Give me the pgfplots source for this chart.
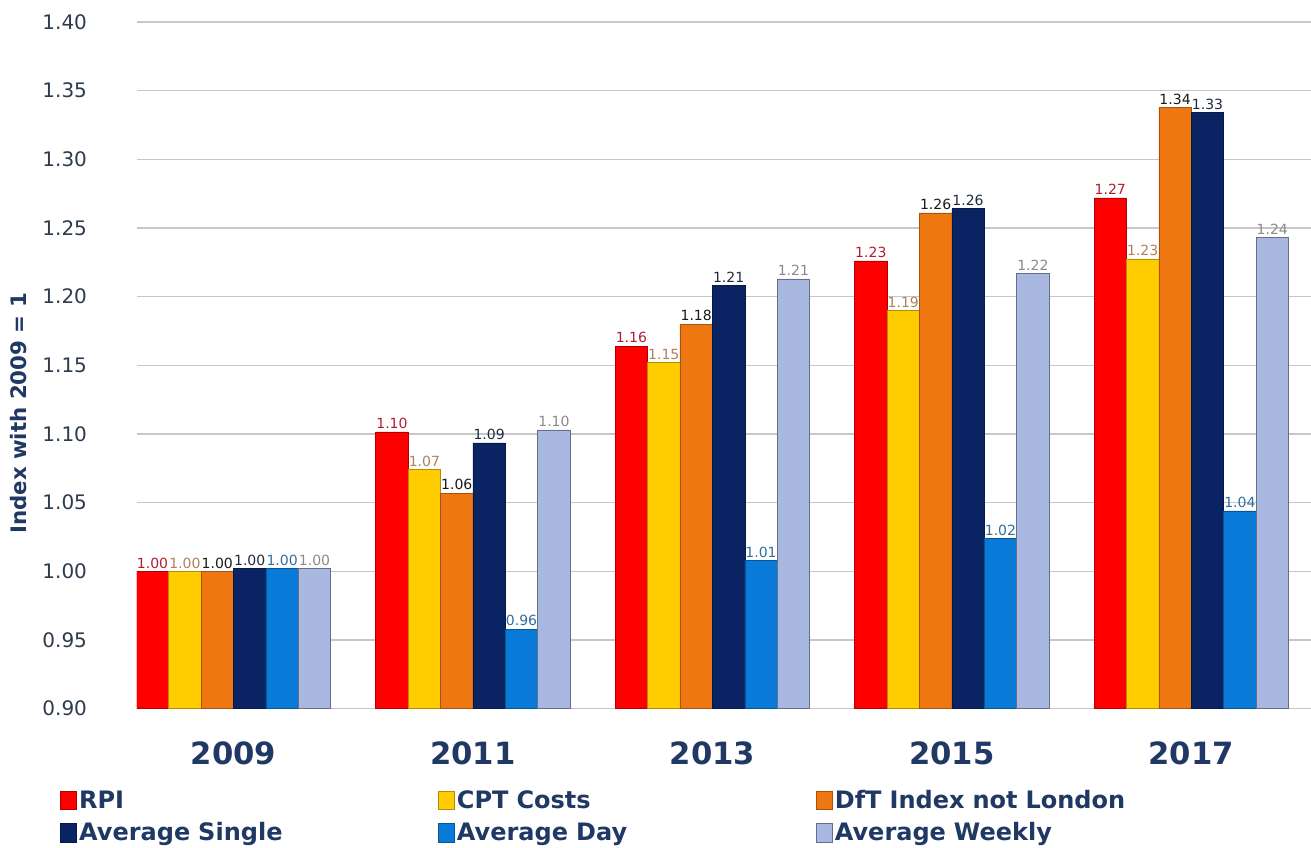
\documentclass[border=0pt]{standalone}
\usepackage{fontspec}
\setmainfont{DejaVu Sans}
\usepackage{pgfplots}
\pgfplotsset{compat=1.18}

\definecolor{cRPI}{HTML}{FF0000}
\definecolor{cCPT}{HTML}{FFCC00}
\definecolor{cDfT}{HTML}{EE7711}
\definecolor{cSgl}{HTML}{0A2463}
\definecolor{cDay}{HTML}{0A7AD8}
\definecolor{cWk}{HTML}{A8B8E0}
\definecolor{lRPI}{HTML}{B01E2E}
\definecolor{lCPT}{HTML}{B0805A}
\definecolor{lDfT}{HTML}{1A1A1A}
\definecolor{lSgl}{HTML}{1F2A44}
\definecolor{lDay}{HTML}{2F6FA0}
\definecolor{lWk}{HTML}{8A8A8A}
\definecolor{navytxt}{HTML}{1F3864}
\definecolor{ticktxt}{HTML}{2E3A4E}

\begin{document}
\begin{tikzpicture}
\begin{axis}[
    scale only axis,
    width=880.5pt, height=515pt,
    ybar=0pt, bar width=24.3pt,
    xmin=-0.403, xmax=4.5,
    ymin=0.9, ymax=1.4,
    xtick={0,1,2,3,4},
    xticklabels={2009,2011,2013,2015,2017},
    ytick={0.9,0.95,1.0,1.05,1.1,1.15,1.2,1.25,1.3,1.35,1.4},
    /pgf/number format/assume math mode=true,
    yticklabel style={/pgf/number format/fixed, /pgf/number format/fixed zerofill,
        /pgf/number format/precision=2, font=\fontsize{15}{17}\selectfont,
        text=ticktxt, xshift=-34pt},
    xticklabel style={font=\bfseries\fontsize{23}{26}\selectfont, text=navytxt,
        anchor=base, yshift=-42pt},
    ymajorgrids, grid style={draw=black!22, line width=0.8pt},
    axis line style={draw=none},
    major tick length=0pt,
    every axis y label/.style={at={(axis description cs:-0.101,0.43)},
        rotate=90, anchor=center},
    ylabel={Index with 2009 = 1},
    ylabel style={font=\bfseries\fontsize{16}{18}\selectfont, text=navytxt},
    nodes near coords,
    every node near coord/.append style={font=\fontsize{10.5}{12}\selectfont,
        /pgf/number format/fixed, /pgf/number format/fixed zerofill,
        /pgf/number format/precision=2, inner sep=2pt},
    legend columns=3,
    legend image code/.code={\draw[#1, line width=0.4pt] (0pt,-7pt) rectangle (12pt,7pt);},
    legend style={at={(axis description cs:0,0)}, anchor=north west,
        xshift=-58pt, yshift=-59pt, draw=none, fill=none, inner sep=0pt,
        font=\bfseries\fontsize{18}{21}\selectfont, text=navytxt,
        cells={anchor=west, text width=267pt}, row sep=5pt},
]

\addplot[fill=cRPI, draw=cRPI!70!black, every node near coord/.append style={text=lRPI}]
    coordinates {(0,1.000)(1,1.1016)(2,1.164)(3,1.226)(4,1.272)};
\addlegendentry{RPI}

\addplot[fill=cCPT, draw=cCPT!70!black, every node near coord/.append style={text=lCPT}]
    coordinates {(0,1.000)(1,1.074)(2,1.152)(3,1.190)(4,1.2275)};
\addlegendentry{CPT Costs}

\addplot[fill=cDfT, draw=cDfT!70!black, every node near coord/.append style={text=lDfT}]
    coordinates {(0,1.000)(1,1.057)(2,1.180)(3,1.261)(4,1.338)};
\addlegendentry{DfT Index not London}

\addplot[fill=cSgl, draw=cSgl!70!black, every node near coord/.append style={text=lSgl}]
    coordinates {(0,1.002)(1,1.0936)(2,1.208)(3,1.264)(4,1.334)};
\addlegendentry{Average Single}

\addplot[fill=cDay, draw=cDay!70!black, every node near coord/.append style={text=lDay}]
    coordinates {(0,1.002)(1,0.958)(2,1.008)(3,1.024)(4,1.044)};
\addlegendentry{Average Day}

\addplot[fill=cWk, draw=cWk!60!black, every node near coord/.append style={text=lWk}]
    coordinates {(0,1.002)(1,1.103)(2,1.213)(3,1.217)(4,1.243)};
\addlegendentry{Average Weekly}

\end{axis}
\pgfresetboundingbox
\path[use as bounding box] (-102.75pt,-104.25pt) rectangle (880.5pt,531.5pt);
\end{tikzpicture}
\end{document}
